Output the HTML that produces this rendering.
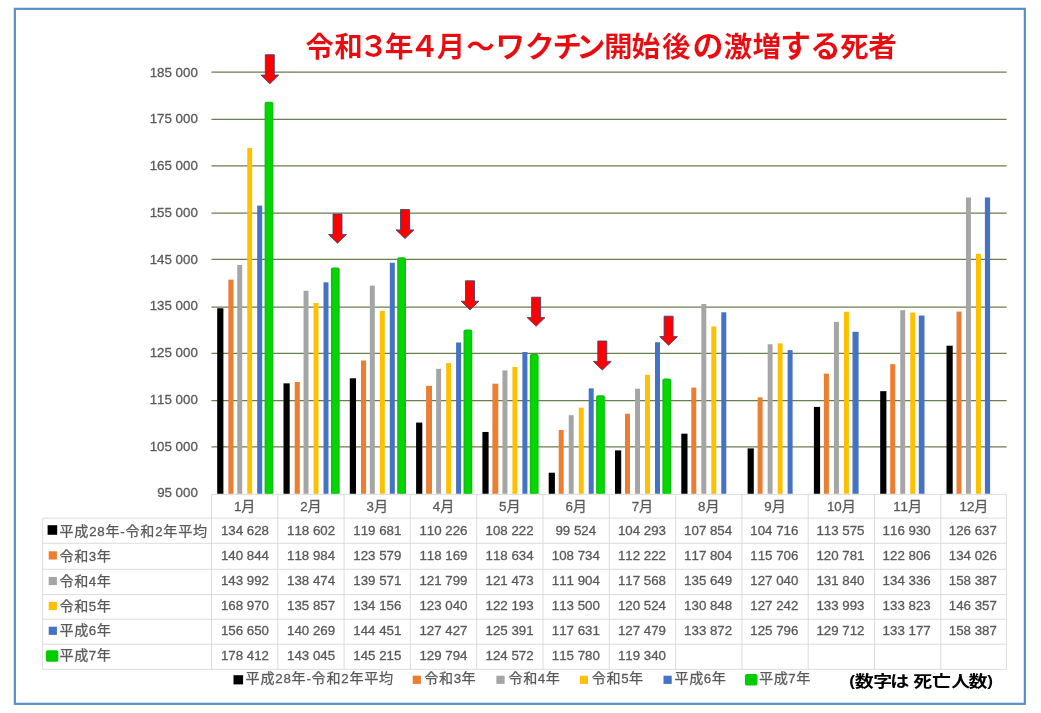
<!DOCTYPE html>
<html lang="ja"><head><meta charset="utf-8"><title>令和3年4月～ワクチン開始後の激増する死者</title>
<style>
html,body{margin:0;padding:0;background:#fff;}
body{width:1041px;height:713px;overflow:hidden;}
svg{display:block;}
text{font-family:"Liberation Sans","Noto Sans CJK JP",sans-serif;fill:#595959;}
.n{font-family:"Liberation Sans","Noto Sans CJK JP",sans-serif;font-size:13.3px;stroke:#595959;stroke-width:0.3px;font-kerning:none;}
.h{font-family:"Liberation Sans","Noto Sans CJK JP",sans-serif;font-size:14.1px;stroke:#595959;stroke-width:0.25px;}
.t{font-family:"Liberation Sans","Noto Sans CJK JP",sans-serif;font-size:28.6px;font-weight:bold;fill:#E80C10;stroke:#fff;stroke-width:0.18px;paint-order:fill stroke;}
.tk{font-size:31px;}
.tc{font-size:29.6px;}
.td{font-size:30px;}
.np{font-size:15.6px;}
.note{font-family:"Liberation Sans","Noto Sans CJK JP",sans-serif;font-size:17.2px;font-weight:700;fill:#000;}
</style></head><body>
<svg width="1041" height="713" viewBox="0 0 1041 713">
<rect x="0" y="0" width="1041" height="713" fill="#ffffff"/>
<rect x="14.85" y="8.85" width="1010.0" height="695.0" fill="#ffffff" stroke="#5890C8" stroke-width="2.2"/>
<line x1="211.5" y1="72.10" x2="1006.6" y2="72.10" stroke="#687F4C" stroke-width="1.25"/>
<text class="n" x="197.8" y="76.60" text-anchor="end">185 000</text>
<line x1="211.5" y1="119.45" x2="1006.6" y2="119.45" stroke="#687F4C" stroke-width="1.25"/>
<text class="n" x="197.8" y="123.34" text-anchor="end">175 000</text>
<line x1="211.5" y1="165.80" x2="1006.6" y2="165.80" stroke="#687F4C" stroke-width="1.25"/>
<text class="n" x="197.8" y="170.08" text-anchor="end">165 000</text>
<line x1="211.5" y1="213.05" x2="1006.6" y2="213.05" stroke="#687F4C" stroke-width="1.25"/>
<text class="n" x="197.8" y="216.82" text-anchor="end">155 000</text>
<line x1="211.5" y1="259.40" x2="1006.6" y2="259.40" stroke="#687F4C" stroke-width="1.25"/>
<text class="n" x="197.8" y="263.56" text-anchor="end">145 000</text>
<line x1="211.5" y1="307.00" x2="1006.6" y2="307.00" stroke="#687F4C" stroke-width="1.25"/>
<text class="n" x="197.8" y="310.30" text-anchor="end">135 000</text>
<line x1="211.5" y1="353.40" x2="1006.6" y2="353.40" stroke="#687F4C" stroke-width="1.25"/>
<text class="n" x="197.8" y="357.04" text-anchor="end">125 000</text>
<line x1="211.5" y1="400.70" x2="1006.6" y2="400.70" stroke="#687F4C" stroke-width="1.25"/>
<text class="n" x="197.8" y="403.78" text-anchor="end">115 000</text>
<line x1="211.5" y1="446.95" x2="1006.6" y2="446.95" stroke="#687F4C" stroke-width="1.25"/>
<text class="n" x="197.8" y="450.52" text-anchor="end">105 000</text>
<text class="n" x="197.8" y="497.26" text-anchor="end">95 000</text>
<rect x="217.20" y="308.26" width="6.20" height="185.54" fill="#000"/>
<rect x="228.40" y="279.65" width="5.10" height="214.15" fill="#ED7D31"/>
<rect x="237.25" y="264.90" width="4.95" height="228.90" fill="#A5A5A5"/>
<rect x="247.25" y="147.89" width="4.95" height="345.91" fill="#FFC000"/>
<rect x="257.20" y="205.60" width="5.00" height="288.20" fill="#4472C4"/>
<path d="M264.60 493.80 V103.76 Q264.60 101.76 266.60 101.76 H271.40 Q273.40 101.76 273.40 103.76 V493.80 Z" fill="#10C010"/>
<rect x="266.20" y="103.26" width="5.60" height="390.54" rx="1" fill="#00D800"/>
<rect x="283.50" y="383.34" width="6.20" height="110.46" fill="#000"/>
<rect x="294.70" y="382.05" width="5.10" height="111.75" fill="#ED7D31"/>
<rect x="303.55" y="290.75" width="4.95" height="203.05" fill="#A5A5A5"/>
<rect x="313.55" y="303.01" width="4.95" height="190.79" fill="#FFC000"/>
<rect x="323.50" y="282.34" width="5.00" height="211.46" fill="#4472C4"/>
<path d="M330.90 493.80 V269.44 Q330.90 267.44 332.90 267.44 H337.70 Q339.70 267.44 339.70 269.44 V493.80 Z" fill="#10C010"/>
<rect x="332.50" y="268.94" width="5.60" height="224.86" rx="1" fill="#00D800"/>
<rect x="349.80" y="378.28" width="6.20" height="115.52" fill="#000"/>
<rect x="361.00" y="360.52" width="5.10" height="133.28" fill="#ED7D31"/>
<rect x="369.85" y="285.61" width="4.95" height="208.19" fill="#A5A5A5"/>
<rect x="379.85" y="310.98" width="4.95" height="182.82" fill="#FFC000"/>
<rect x="389.80" y="262.75" width="5.00" height="231.05" fill="#4472C4"/>
<path d="M397.20 493.80 V259.27 Q397.20 257.27 399.20 257.27 H404.00 Q406.00 257.27 406.00 259.27 V493.80 Z" fill="#10C010"/>
<rect x="398.80" y="258.77" width="5.60" height="235.03" rx="1" fill="#00D800"/>
<rect x="416.10" y="422.57" width="6.20" height="71.23" fill="#000"/>
<rect x="426.10" y="385.87" width="5.90" height="107.93" fill="#ED7D31"/>
<rect x="436.15" y="368.86" width="4.95" height="124.94" fill="#A5A5A5"/>
<rect x="446.15" y="363.05" width="4.95" height="130.75" fill="#FFC000"/>
<rect x="456.10" y="342.50" width="5.00" height="151.30" fill="#4472C4"/>
<path d="M463.50 493.80 V331.51 Q463.50 329.51 465.50 329.51 H470.30 Q472.30 329.51 472.30 331.51 V493.80 Z" fill="#10C010"/>
<rect x="465.10" y="331.01" width="5.60" height="162.79" rx="1" fill="#00D800"/>
<rect x="482.40" y="431.96" width="6.20" height="61.84" fill="#000"/>
<rect x="492.40" y="383.69" width="5.90" height="110.11" fill="#ED7D31"/>
<rect x="502.45" y="370.39" width="4.95" height="123.41" fill="#A5A5A5"/>
<rect x="512.45" y="367.02" width="4.95" height="126.78" fill="#FFC000"/>
<rect x="522.40" y="352.04" width="5.00" height="141.76" fill="#4472C4"/>
<path d="M529.80 493.80 V355.97 Q529.80 353.97 531.80 353.97 H536.60 Q538.60 353.97 538.60 355.97 V493.80 Z" fill="#10C010"/>
<rect x="531.40" y="355.47" width="5.60" height="138.33" rx="1" fill="#00D800"/>
<rect x="548.70" y="472.71" width="6.20" height="21.09" fill="#000"/>
<rect x="558.70" y="430.06" width="5.00" height="63.74" fill="#ED7D31"/>
<rect x="568.75" y="415.21" width="4.95" height="78.59" fill="#A5A5A5"/>
<rect x="578.75" y="407.74" width="4.95" height="86.06" fill="#FFC000"/>
<rect x="588.70" y="388.39" width="5.00" height="105.41" fill="#4472C4"/>
<path d="M596.10 493.80 V397.16 Q596.10 395.16 598.10 395.16 H602.90 Q604.90 395.16 604.90 397.16 V493.80 Z" fill="#10C010"/>
<rect x="597.70" y="396.66" width="5.60" height="97.14" rx="1" fill="#00D800"/>
<rect x="615.00" y="450.37" width="6.20" height="43.43" fill="#000"/>
<rect x="625.00" y="413.72" width="5.00" height="80.08" fill="#ED7D31"/>
<rect x="635.05" y="388.68" width="4.95" height="105.12" fill="#A5A5A5"/>
<rect x="645.05" y="374.83" width="4.95" height="118.97" fill="#FFC000"/>
<rect x="655.00" y="342.25" width="5.00" height="151.55" fill="#4472C4"/>
<path d="M662.40 493.80 V380.48 Q662.40 378.48 664.40 378.48 H669.20 Q671.20 378.48 671.20 380.48 V493.80 Z" fill="#10C010"/>
<rect x="664.00" y="379.98" width="5.60" height="113.82" rx="1" fill="#00D800"/>
<rect x="681.30" y="433.69" width="6.20" height="60.11" fill="#000"/>
<rect x="691.30" y="387.58" width="5.00" height="106.22" fill="#ED7D31"/>
<rect x="701.35" y="303.98" width="4.95" height="189.82" fill="#A5A5A5"/>
<rect x="711.35" y="326.47" width="4.95" height="167.33" fill="#FFC000"/>
<rect x="721.30" y="312.31" width="5.00" height="181.49" fill="#4472C4"/>
<rect x="747.60" y="448.39" width="6.20" height="45.41" fill="#000"/>
<rect x="757.60" y="397.40" width="5.00" height="96.40" fill="#ED7D31"/>
<rect x="767.65" y="344.31" width="4.95" height="149.49" fill="#A5A5A5"/>
<rect x="777.65" y="343.36" width="4.95" height="150.44" fill="#FFC000"/>
<rect x="787.60" y="350.14" width="5.00" height="143.66" fill="#4472C4"/>
<rect x="813.90" y="406.89" width="6.20" height="86.91" fill="#000"/>
<rect x="823.90" y="373.63" width="5.00" height="120.17" fill="#ED7D31"/>
<rect x="833.95" y="321.83" width="4.95" height="171.97" fill="#A5A5A5"/>
<rect x="843.95" y="311.74" width="4.95" height="182.06" fill="#FFC000"/>
<rect x="852.50" y="331.79" width="6.10" height="162.01" fill="#4472C4"/>
<rect x="880.20" y="391.17" width="6.20" height="102.63" fill="#000"/>
<rect x="890.20" y="364.14" width="5.00" height="129.66" fill="#ED7D31"/>
<rect x="900.25" y="310.13" width="4.95" height="183.67" fill="#A5A5A5"/>
<rect x="910.25" y="312.54" width="4.95" height="181.26" fill="#FFC000"/>
<rect x="918.80" y="315.56" width="5.70" height="178.24" fill="#4472C4"/>
<rect x="946.50" y="345.70" width="6.20" height="148.10" fill="#000"/>
<rect x="956.50" y="311.58" width="5.00" height="182.22" fill="#ED7D31"/>
<rect x="965.95" y="197.47" width="4.95" height="296.33" fill="#A5A5A5"/>
<rect x="975.95" y="253.82" width="4.95" height="239.98" fill="#FFC000"/>
<rect x="984.90" y="197.47" width="5.20" height="296.33" fill="#4472C4"/>
<g stroke="#D4D4D4" stroke-width="0.8" fill="none">
<line x1="211.5" y1="494.4" x2="1006.4" y2="494.4"/>
<line x1="42.6" y1="518.1" x2="1006.4" y2="518.1"/>
<line x1="42.6" y1="543.3" x2="1006.4" y2="543.3"/>
<line x1="42.6" y1="569.3" x2="1006.4" y2="569.3"/>
<line x1="42.6" y1="594.5" x2="1006.4" y2="594.5"/>
<line x1="42.6" y1="619.2" x2="1006.4" y2="619.2"/>
<line x1="42.6" y1="644.2" x2="1006.4" y2="644.2"/>
<line x1="42.6" y1="669.3" x2="1006.4" y2="669.3"/>
<line x1="42.6" y1="518.1" x2="42.6" y2="669.3"/>
<line x1="211.5" y1="494.4" x2="211.5" y2="669.3"/>
<line x1="277.8" y1="494.4" x2="277.8" y2="669.3"/>
<line x1="344.1" y1="494.4" x2="344.1" y2="669.3"/>
<line x1="410.4" y1="494.4" x2="410.4" y2="669.3"/>
<line x1="476.7" y1="494.4" x2="476.7" y2="669.3"/>
<line x1="543.0" y1="494.4" x2="543.0" y2="669.3"/>
<line x1="609.3" y1="494.4" x2="609.3" y2="669.3"/>
<line x1="675.6" y1="494.4" x2="675.6" y2="669.3"/>
<line x1="741.9" y1="494.4" x2="741.9" y2="669.3"/>
<line x1="808.2" y1="494.4" x2="808.2" y2="669.3"/>
<line x1="874.5" y1="494.4" x2="874.5" y2="669.3"/>
<line x1="940.8" y1="494.4" x2="940.8" y2="669.3"/>
<line x1="1006.4" y1="494.4" x2="1006.4" y2="669.3"/>
</g>
<text class="h" x="244.65" y="511.40" text-anchor="middle"><tspan class="n">1</tspan>月</text>
<text class="h" x="310.95" y="511.40" text-anchor="middle"><tspan class="n">2</tspan>月</text>
<text class="h" x="377.25" y="511.40" text-anchor="middle"><tspan class="n">3</tspan>月</text>
<text class="h" x="443.55" y="511.40" text-anchor="middle"><tspan class="n">4</tspan>月</text>
<text class="h" x="509.85" y="511.40" text-anchor="middle"><tspan class="n">5</tspan>月</text>
<text class="h" x="576.15" y="511.40" text-anchor="middle"><tspan class="n">6</tspan>月</text>
<text class="h" x="642.45" y="511.40" text-anchor="middle"><tspan class="n">7</tspan>月</text>
<text class="h" x="708.75" y="511.40" text-anchor="middle"><tspan class="n">8</tspan>月</text>
<text class="h" x="775.05" y="511.40" text-anchor="middle"><tspan class="n">9</tspan>月</text>
<text class="h" x="841.35" y="511.40" text-anchor="middle"><tspan class="n">10</tspan>月</text>
<text class="h" x="907.65" y="511.40" text-anchor="middle"><tspan class="n">11</tspan>月</text>
<text class="h" x="973.95" y="511.40" text-anchor="middle"><tspan class="n">12</tspan>月</text>
<rect x="47.60" y="525.20" width="9.6" height="9.6" fill="#000"/>
<text class="h" x="59.50" y="535.60" textLength="147.6" lengthAdjust="spacing">平成<tspan class="n">28</tspan>年<tspan class="n">-</tspan>令和<tspan class="n">2</tspan>年平均</text>
<text class="n" x="244.95" y="535.20" text-anchor="middle">134 628</text>
<text class="n" x="311.12" y="535.20" text-anchor="middle">118 602</text>
<text class="n" x="377.29" y="535.20" text-anchor="middle">119 681</text>
<text class="n" x="443.46" y="535.20" text-anchor="middle">110 226</text>
<text class="n" x="509.63" y="535.20" text-anchor="middle">108 222</text>
<text class="n" x="575.80" y="535.20" text-anchor="middle">99 524</text>
<text class="n" x="641.97" y="535.20" text-anchor="middle">104 293</text>
<text class="n" x="708.14" y="535.20" text-anchor="middle">107 854</text>
<text class="n" x="774.31" y="535.20" text-anchor="middle">104 716</text>
<text class="n" x="840.48" y="535.20" text-anchor="middle">113 575</text>
<text class="n" x="906.65" y="535.20" text-anchor="middle">116 930</text>
<text class="n" x="972.82" y="535.20" text-anchor="middle">126 637</text>
<rect x="48.70" y="551.30" width="8.2" height="8.2" fill="#ED7D31"/>
<text class="h" x="59.50" y="560.55" textLength="51.4" lengthAdjust="spacing">令和<tspan class="n">3</tspan>年</text>
<text class="n" x="244.95" y="560.15" text-anchor="middle">140 844</text>
<text class="n" x="311.12" y="560.15" text-anchor="middle">118 984</text>
<text class="n" x="377.29" y="560.15" text-anchor="middle">123 579</text>
<text class="n" x="443.46" y="560.15" text-anchor="middle">118 169</text>
<text class="n" x="509.63" y="560.15" text-anchor="middle">118 634</text>
<text class="n" x="575.80" y="560.15" text-anchor="middle">108 734</text>
<text class="n" x="641.97" y="560.15" text-anchor="middle">112 222</text>
<text class="n" x="708.14" y="560.15" text-anchor="middle">117 804</text>
<text class="n" x="774.31" y="560.15" text-anchor="middle">115 706</text>
<text class="n" x="840.48" y="560.15" text-anchor="middle">120 781</text>
<text class="n" x="906.65" y="560.15" text-anchor="middle">122 806</text>
<text class="n" x="972.82" y="560.15" text-anchor="middle">134 026</text>
<rect x="48.70" y="576.90" width="8.2" height="8.2" fill="#A5A5A5"/>
<text class="h" x="59.50" y="585.50" textLength="51.4" lengthAdjust="spacing">令和<tspan class="n">4</tspan>年</text>
<text class="n" x="244.95" y="585.10" text-anchor="middle">143 992</text>
<text class="n" x="311.12" y="585.10" text-anchor="middle">138 474</text>
<text class="n" x="377.29" y="585.10" text-anchor="middle">139 571</text>
<text class="n" x="443.46" y="585.10" text-anchor="middle">121 799</text>
<text class="n" x="509.63" y="585.10" text-anchor="middle">121 473</text>
<text class="n" x="575.80" y="585.10" text-anchor="middle">111 904</text>
<text class="n" x="641.97" y="585.10" text-anchor="middle">117 568</text>
<text class="n" x="708.14" y="585.10" text-anchor="middle">135 649</text>
<text class="n" x="774.31" y="585.10" text-anchor="middle">127 040</text>
<text class="n" x="840.48" y="585.10" text-anchor="middle">131 840</text>
<text class="n" x="906.65" y="585.10" text-anchor="middle">134 336</text>
<text class="n" x="972.82" y="585.10" text-anchor="middle">158 387</text>
<rect x="48.70" y="601.85" width="8.2" height="8.2" fill="#FFC000"/>
<text class="h" x="59.50" y="610.50" textLength="51.4" lengthAdjust="spacing">令和<tspan class="n">5</tspan>年</text>
<text class="n" x="244.95" y="610.10" text-anchor="middle">168 970</text>
<text class="n" x="311.12" y="610.10" text-anchor="middle">135 857</text>
<text class="n" x="377.29" y="610.10" text-anchor="middle">134 156</text>
<text class="n" x="443.46" y="610.10" text-anchor="middle">123 040</text>
<text class="n" x="509.63" y="610.10" text-anchor="middle">122 193</text>
<text class="n" x="575.80" y="610.10" text-anchor="middle">113 500</text>
<text class="n" x="641.97" y="610.10" text-anchor="middle">120 524</text>
<text class="n" x="708.14" y="610.10" text-anchor="middle">130 848</text>
<text class="n" x="774.31" y="610.10" text-anchor="middle">127 242</text>
<text class="n" x="840.48" y="610.10" text-anchor="middle">133 993</text>
<text class="n" x="906.65" y="610.10" text-anchor="middle">133 823</text>
<text class="n" x="972.82" y="610.10" text-anchor="middle">146 357</text>
<rect x="48.70" y="626.70" width="8.2" height="8.2" fill="#4472C4"/>
<text class="h" x="59.50" y="635.45" textLength="51.4" lengthAdjust="spacing">平成<tspan class="n">6</tspan>年</text>
<text class="n" x="244.95" y="635.05" text-anchor="middle">156 650</text>
<text class="n" x="311.12" y="635.05" text-anchor="middle">140 269</text>
<text class="n" x="377.29" y="635.05" text-anchor="middle">144 451</text>
<text class="n" x="443.46" y="635.05" text-anchor="middle">127 427</text>
<text class="n" x="509.63" y="635.05" text-anchor="middle">125 391</text>
<text class="n" x="575.80" y="635.05" text-anchor="middle">117 631</text>
<text class="n" x="641.97" y="635.05" text-anchor="middle">127 479</text>
<text class="n" x="708.14" y="635.05" text-anchor="middle">133 872</text>
<text class="n" x="774.31" y="635.05" text-anchor="middle">125 796</text>
<text class="n" x="840.48" y="635.05" text-anchor="middle">129 712</text>
<text class="n" x="906.65" y="635.05" text-anchor="middle">133 177</text>
<text class="n" x="972.82" y="635.05" text-anchor="middle">158 387</text>
<rect x="45.80" y="650.25" width="12.6" height="11.6" rx="2.2" fill="#00CC00"/>
<text class="h" x="59.50" y="660.40" textLength="51.4" lengthAdjust="spacing">平成<tspan class="n">7</tspan>年</text>
<text class="n" x="244.95" y="660.00" text-anchor="middle">178 412</text>
<text class="n" x="311.12" y="660.00" text-anchor="middle">143 045</text>
<text class="n" x="377.29" y="660.00" text-anchor="middle">145 215</text>
<text class="n" x="443.46" y="660.00" text-anchor="middle">129 794</text>
<text class="n" x="509.63" y="660.00" text-anchor="middle">124 572</text>
<text class="n" x="575.80" y="660.00" text-anchor="middle">115 780</text>
<text class="n" x="641.97" y="660.00" text-anchor="middle">119 340</text>
<rect x="233.50" y="675.20" width="9.6" height="9.2" fill="#000"/>
<text class="h" x="245.60" y="683.20" textLength="147.6" lengthAdjust="spacing">平成<tspan class="n">28</tspan>年<tspan class="n">-</tspan>令和<tspan class="n">2</tspan>年平均</text>
<rect x="412.70" y="675.70" width="8.2" height="8.2" fill="#ED7D31"/>
<text class="h" x="424.30" y="683.20" textLength="51.4" lengthAdjust="spacing">令和<tspan class="n">3</tspan>年</text>
<rect x="496.40" y="675.70" width="8.2" height="8.2" fill="#A5A5A5"/>
<text class="h" x="508.50" y="683.20" textLength="51.4" lengthAdjust="spacing">令和<tspan class="n">4</tspan>年</text>
<rect x="579.80" y="675.70" width="8.2" height="8.2" fill="#FFC000"/>
<text class="h" x="591.80" y="683.20" textLength="51.4" lengthAdjust="spacing">令和<tspan class="n">5</tspan>年</text>
<rect x="663.50" y="675.70" width="8.2" height="8.2" fill="#4472C4"/>
<text class="h" x="674.50" y="683.20" textLength="51.4" lengthAdjust="spacing">平成<tspan class="n">6</tspan>年</text>
<rect x="744.90" y="674.00" width="12.6" height="11.6" rx="2.2" fill="#00CC00"/>
<text class="h" x="759.00" y="683.20" textLength="51.4" lengthAdjust="spacing">平成<tspan class="n">7</tspan>年</text>
<text class="note" transform="translate(0,686.7) scale(1.10,0.93)" x="774.73 785.64 802.36 818.00 838.73 855.82 873.27 889.09 900.00" y="0" text-anchor="middle"><tspan class="np" dy="-0.9">(</tspan><tspan dy="0.9">数字は死亡人数</tspan><tspan class="np" dy="-0.9">)</tspan></text>
<path d="M265.30 54.70 h9.0 v20.4 h4.4 l-8.9 8.7 l-8.9 -8.7 h4.4 z" fill="#FF0000" stroke="#3A426E" stroke-width="0.85" stroke-linejoin="miter"/>
<path d="M333.00 214.10 h9.0 v20.4 h4.4 l-8.9 8.7 l-8.9 -8.7 h4.4 z" fill="#FF0000" stroke="#3A426E" stroke-width="0.85" stroke-linejoin="miter"/>
<path d="M400.50 209.50 h9.0 v20.4 h4.4 l-8.9 8.7 l-8.9 -8.7 h4.4 z" fill="#FF0000" stroke="#3A426E" stroke-width="0.85" stroke-linejoin="miter"/>
<path d="M465.50 280.80 h9.0 v20.4 h4.4 l-8.9 8.7 l-8.9 -8.7 h4.4 z" fill="#FF0000" stroke="#3A426E" stroke-width="0.85" stroke-linejoin="miter"/>
<path d="M531.60 297.20 h9.0 v20.4 h4.4 l-8.9 8.7 l-8.9 -8.7 h4.4 z" fill="#FF0000" stroke="#3A426E" stroke-width="0.85" stroke-linejoin="miter"/>
<path d="M597.80 341.00 h9.0 v20.4 h4.4 l-8.9 8.7 l-8.9 -8.7 h4.4 z" fill="#FF0000" stroke="#3A426E" stroke-width="0.85" stroke-linejoin="miter"/>
<path d="M664.10 316.20 h9.0 v20.4 h4.4 l-8.9 8.7 l-8.9 -8.7 h4.4 z" fill="#FF0000" stroke="#3A426E" stroke-width="0.85" stroke-linejoin="miter"/>
<text class="t" x="319.5 348.5 373.8 399.0 424.6 451.0 480.6 510.2 539.8 567.4 590.9 618.3 645.7 676.4 708.1 737.8 766.8 795.6 825.4 854.2 882.5" y="57.2" text-anchor="middle">令和<tspan class="td">３</tspan>年<tspan class="td">４</tspan>月～<tspan class="tc">ワクチン</tspan>開始後<tspan class="tk">の</tspan>激増<tspan class="tk">する</tspan>死者</text>
</svg>
</body></html>
